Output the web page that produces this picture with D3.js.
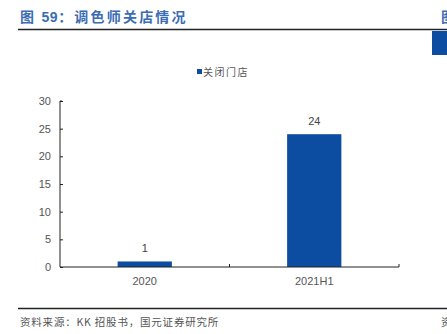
<!DOCTYPE html>
<html>
<head>
    <meta charset="utf-8">
    <title>调色师关店情况</title>
    <script src="https://d3js.org/d3.v7.min.js" charset="utf-8"></script>
    <style>
        html, body { margin: 0; padding: 0; background: #fff; }
    </style>
</head>
<body>
    <div id="chart"></div>
    <script>
        // chart data
        const categories = ["2020", "2021H1"];
        const closedStores = [1, 24];
        const yTicks = [0, 5, 10, 15, 20, 25, 30];
        const seriesName = "关闭门店";

        const width = 447, height = 334;
        const cjk = "'Noto Sans CJK SC', sans-serif";
        const latin = "'Liberation Sans', Arial, sans-serif";
        const barColor = "#0c4da2";

        const svg = d3.select("#chart").append("svg")
            .attr("width", width)
            .attr("height", height);

        // title
        const title = svg.append("text")
            .attr("x", 20)
            .attr("y", 22)
            .attr("fill", "#3b6db3")
            .style("font-weight", "bold")
            .style("font-size", "14px")
            .style("letter-spacing", "2.2px")
            .style("font-family", cjk);
        title.append("tspan").text("图 ");
        title.append("tspan").style("font-family", latin).style("letter-spacing", "0.5px").text("59");
        title.append("tspan").text("：调色师关店情况");

        // next panel peeking in on the right
        svg.append("text")
            .attr("x", 441)
            .attr("y", 22)
            .attr("fill", "#3b6db3")
            .style("font-weight", "bold")
            .style("font-size", "14px")
            .style("font-family", cjk)
            .text("图");
        svg.append("rect")
            .attr("x", 432).attr("y", 31)
            .attr("width", 15).attr("height", 24)
            .attr("fill", barColor);

        // horizontal rules
        svg.append("line")
            .attr("x1", 18).attr("x2", width)
            .attr("y1", 29.5).attr("y2", 29.5)
            .attr("stroke", "#222").attr("stroke-width", 1.6);
        svg.append("line")
            .attr("x1", 18).attr("x2", width)
            .attr("y1", 308.5).attr("y2", 308.5)
            .attr("stroke", "#222").attr("stroke-width", 1.6);

        // source
        svg.append("text")
            .attr("x", 20)
            .attr("y", 326)
            .attr("fill", "#555")
            .style("font-size", "10.5px")
            .style("letter-spacing", "0.8px")
            .style("font-family", cjk)
            .text("资料来源：KK 招股书，国元证券研究所");
        svg.append("text")
            .attr("x", 441)
            .attr("y", 326)
            .attr("fill", "#555")
            .style("font-size", "10.5px")
            .style("font-family", cjk)
            .text("资");

        // scales
        const plot = { left: 60, right: 399, top: 101, bottom: 267 };
        const xScale = d3.scaleBand()
            .domain(categories)
            .range([plot.left, plot.right])
            .paddingInner(0.68)
            .paddingOuter(0.34);
        const yScale = d3.scaleLinear()
            .domain([0, 30])
            .range([plot.bottom, plot.top]);

        // bars
        svg.selectAll(".bar")
            .data(categories)
            .enter()
            .append("rect")
            .attr("class", "bar")
            .attr("x", d => xScale(d))
            .attr("y", (d, i) => yScale(closedStores[i]))
            .attr("width", xScale.bandwidth())
            .attr("height", (d, i) => plot.bottom - yScale(closedStores[i]))
            .attr("fill", barColor);

        // value labels
        svg.selectAll(".val")
            .data(categories)
            .enter()
            .append("text")
            .attr("class", "val")
            .attr("x", d => xScale(d) + xScale.bandwidth() / 2)
            .attr("y", (d, i) => yScale(closedStores[i]) - 9)
            .attr("text-anchor", "middle")
            .attr("fill", "#444")
            .style("font-size", "11px")
            .style("font-family", latin)
            .text((d, i) => closedStores[i]);

        // y axis
        const yAxis = d3.axisLeft(yScale)
            .tickValues(yTicks)
            .tickSize(-3)
            .tickPadding(9);
        const yG = svg.append("g")
            .attr("transform", `translate(${plot.left},0)`)
            .call(yAxis);
        yG.select(".domain").attr("d", `M2,${plot.top}H0V${plot.bottom}`).attr("stroke", "#222");
        yG.selectAll(".tick line").attr("stroke", "#222");
        yG.selectAll(".tick text")
            .attr("fill", "#555")
            .style("font-size", "11px")
            .style("font-family", latin);

        // x axis with ticks at category boundaries
        const xAxisG = svg.append("g")
            .attr("transform", `translate(0,${plot.bottom})`);
        xAxisG.append("line")
            .attr("x1", plot.left).attr("x2", plot.right)
            .attr("y1", 0).attr("y2", 0)
            .attr("stroke", "#222");
        const step = xScale.step();
        const bounds = categories.map((d, i) => xScale(d) + xScale.bandwidth() / 2 + step / 2);
        xAxisG.selectAll(".bound")
            .data(bounds)
            .enter()
            .append("line")
            .attr("x1", d => d).attr("x2", d => d)
            .attr("y1", 0).attr("y2", -3)
            .attr("stroke", "#222");
        xAxisG.selectAll(".xlab")
            .data(categories)
            .enter()
            .append("text")
            .attr("x", d => xScale(d) + xScale.bandwidth() / 2)
            .attr("y", 18)
            .attr("text-anchor", "middle")
            .attr("fill", "#555")
            .style("font-size", "11px")
            .style("font-family", latin)
            .text(d => d);

        // legend
        svg.append("rect")
            .attr("x", 197).attr("y", 69)
            .attr("width", 5).attr("height", 5)
            .attr("fill", barColor);
        svg.append("text")
            .attr("x", 203)
            .attr("y", 75.5)
            .attr("fill", "#555")
            .style("font-size", "10px")
            .style("letter-spacing", "1.5px")
            .style("font-family", cjk)
            .text(seriesName);
    </script>
</body>
</html>
